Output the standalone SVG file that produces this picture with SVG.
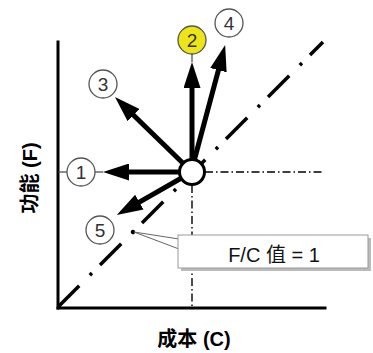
<svg xmlns="http://www.w3.org/2000/svg" width="373" height="353" viewBox="0 0 373 353">
  <style>
    .axis { stroke: #000; stroke-width: 3; fill: none; stroke-linecap: square; }
    .diag { stroke: #000; stroke-width: 3.5; fill: none; stroke-dasharray: 30 15 3 11.4; }
    .guide { stroke: #000; stroke-width: 1.4; fill: none; stroke-dasharray: 8 3 1.5 3; }
    .shaft { stroke: #000; stroke-width: 5; fill: none; marker-end: url(#head); }
    .thin { stroke: #444; stroke-width: 1.2; fill: none; }
    .num { fill: #fff; stroke: #555; stroke-width: 1.3; }
    .num-text { font-family: "Liberation Sans", Arial, sans-serif; font-size: 19px; fill: #333; text-anchor: middle; }
    .label { font-family: "Liberation Sans", "Noto Sans CJK SC", sans-serif; font-size: 20px; font-weight: bold; fill: #000; text-anchor: middle; }
    .box-text { font-family: "Liberation Sans", "Noto Sans CJK SC", sans-serif; font-size: 20px; fill: #111; text-anchor: middle; }
  </style>
  <defs>
    <marker id="head" viewBox="-5 -8.5 26 17" markerWidth="26" markerHeight="17" refX="0" refY="0" orient="auto" markerUnits="userSpaceOnUse">
      <path d="M-5,-8.5 L21,0 L-5,8.5 z" fill="#000"/>
    </marker>
  </defs>

  <!-- axes, F/C = 1 line and guides -->
  <g id="axes">
    <line class="axis" x1="58" y1="42" x2="58" y2="308"/>
    <line class="axis" x1="58" y1="308" x2="325" y2="308"/>
    <line class="diag" x1="58" y1="307" x2="323" y2="42"/>
    <line class="guide" x1="205" y1="172" x2="322" y2="172"/>
    <line class="guide" x1="192" y1="185" x2="192" y2="307"/>
  </g>

  <!-- arrows and thin links to numbered markers -->
  <g id="connectors">
    <line class="shaft" x1="192" y1="172" x2="124" y2="172"/>
    <line class="shaft" x1="192" y1="172" x2="192" y2="83"/>
    <line class="shaft" x1="192" y1="172" x2="130" y2="111.7"/>
    <line class="shaft" x1="193" y1="165" x2="219.7" y2="65.3"/>
    <line class="shaft" x1="192" y1="172" x2="135" y2="204.6"/>
    <line class="thin" x1="58" y1="172" x2="67" y2="172"/>
    <line class="thin" x1="95" y1="172" x2="103" y2="172"/>
    <line class="thin" x1="192" y1="54" x2="192" y2="62"/>
  </g>

  <g id="origin-point">
    <circle cx="192" cy="172" r="12.5" fill="#fff" stroke="#000" stroke-width="3"/>
  </g>

  <g id="n1">
    <circle class="num" cx="81" cy="172" r="14"/>
    <text class="num-text" x="81" y="179">1</text>
  </g>
  <g id="n2">
    <circle cx="192" cy="40" r="14" fill="#ede41a" stroke="#555" stroke-width="1.3"/>
    <text class="num-text" x="192" y="47">2</text>
  </g>
  <g id="n3">
    <circle class="num" cx="103" cy="84" r="14"/>
    <text class="num-text" x="103" y="91">3</text>
  </g>
  <g id="n4">
    <circle class="num" cx="229" cy="23" r="14"/>
    <text class="num-text" x="229" y="30">4</text>
  </g>
  <g id="n5">
    <circle class="num" cx="100" cy="230" r="14"/>
    <text class="num-text" x="100" y="237">5</text>
  </g>

  <!-- callout for the F/C = 1 line -->
  <g id="callout">
    <circle cx="133" cy="232" r="2.2" fill="#000"/>
    <rect x="181" y="238" width="190" height="33" fill="#bbb"/>
    <polygon points="134,232 179,239 179,249" fill="#fff" stroke="#666" stroke-width="1"/>
    <rect x="178" y="235" width="190" height="33" fill="#fff" stroke="#999" stroke-width="1"/>
    <text class="box-text" x="274" y="262">F/C 值 = 1</text>
  </g>

  <g id="labels">
    <text class="label" transform="translate(37,178) rotate(-90)">功能 (F)</text>
    <text class="label" x="194" y="346">成本 (C)</text>
  </g>
</svg>
